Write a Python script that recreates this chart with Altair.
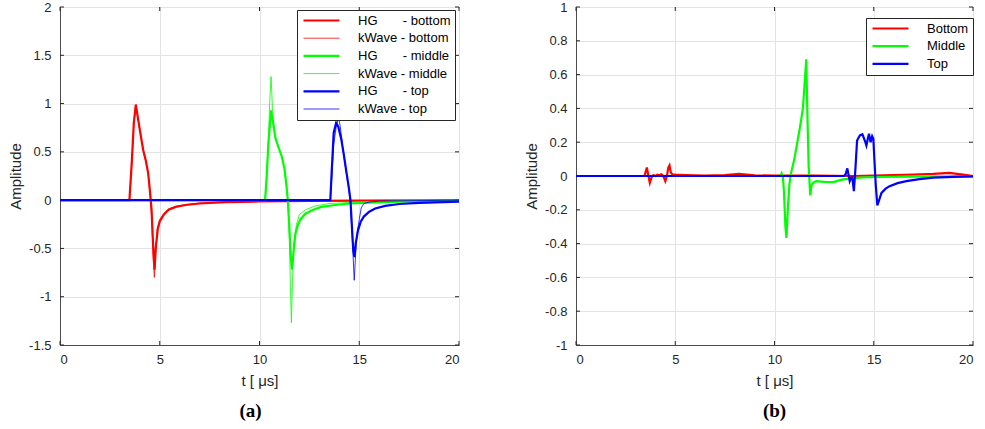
import altair as alt
import pandas as pd

# ---------------- panel (a): HG vs kWave ----------------
hg_bot_t = [0, 3.48, 3.6, 3.7, 3.8, 3.9, 4.0, 4.17, 4.3, 4.42, 4.52, 4.59, 4.67, 4.74, 4.8, 4.9, 5.0, 5.2, 5.45, 5.8, 6.3, 7.0, 8.3, 10, 12.5, 15, 20]
hg_bot_a = [0, 0, 0.4, 0.8, 0.99, 0.86, 0.73, 0.52, 0.41, 0.28, 0.07, -0.1, -0.48, -0.72, -0.5, -0.3, -0.22, -0.15, -0.1, -0.07, -0.05, -0.035, -0.02, -0.014, -0.008, -0.005, -0.002]

kw_bot_t = [0, 3.48, 3.6, 3.7, 3.8, 3.9, 4.0, 4.17, 4.3, 4.42, 4.52, 4.6, 4.67, 4.73, 4.79, 4.87, 5.0, 5.2, 5.45, 5.8, 6.3, 7.0, 8.3, 10, 12.5, 15, 20]
kw_bot_a = [0, 0, 0.38, 0.78, 0.98, 0.85, 0.72, 0.52, 0.4, 0.27, 0.05, -0.2, -0.6, -0.8, -0.55, -0.3, -0.2, -0.14, -0.09, -0.065, -0.045, -0.03, -0.018, -0.012, -0.007, -0.004, -0.001]

hg_mid_t = [0, 10.28, 10.36, 10.45, 10.58, 10.68, 10.8, 10.95, 11.12, 11.25, 11.35, 11.42, 11.5, 11.57, 11.63, 11.7, 11.8, 11.9, 12.05, 12.3, 12.7, 13.1, 13.8, 14.5, 15.5, 17, 20]
hg_mid_a = [0, 0, 0.25, 0.6, 0.93, 0.8, 0.64, 0.55, 0.45, 0.33, 0.15, 0, -0.3, -0.6, -0.72, -0.55, -0.35, -0.27, -0.2, -0.14, -0.1, -0.07, -0.05, -0.035, -0.025, -0.015, -0.008]

kw_mid_t = [0, 10.28, 10.36, 10.45, 10.52, 10.58, 10.65, 10.75, 10.95, 11.12, 11.25, 11.35, 11.42, 11.5, 11.55, 11.6, 11.65, 11.72, 11.85, 12.0, 12.3, 12.8, 13.5, 15, 17, 20]
kw_mid_a = [0, 0, 0.22, 0.65, 1.05, 1.28, 0.95, 0.7, 0.55, 0.45, 0.33, 0.15, 0, -0.4, -0.9, -1.27, -0.85, -0.45, -0.25, -0.15, -0.1, -0.06, -0.035, -0.02, -0.01, -0.005]

hg_top_t = [0, 13.55, 13.62, 13.72, 13.84, 13.95, 14.1, 14.22, 14.35, 14.47, 14.56, 14.64, 14.7, 14.76, 14.82, 14.94, 15.08, 15.23, 15.5, 15.8, 16.3, 17, 18, 20]
hg_top_a = [0, 0, 0.3, 0.7, 0.8, 0.76, 0.63, 0.48, 0.3, 0.14, 0, -0.3, -0.52, -0.59, -0.45, -0.31, -0.22, -0.17, -0.12, -0.087, -0.06, -0.04, -0.028, -0.015]

kw_top_t = [0, 13.55, 13.62, 13.72, 13.86, 13.97, 14.05, 14.2, 14.35, 14.5, 14.56, 14.65, 14.75, 14.82, 14.9, 15.0, 15.1, 15.23, 15.5, 16, 20]
kw_top_a = [0, 0, 0.22, 0.58, 0.78, 0.85, 0.76, 0.5, 0.28, 0.08, -0.05, -0.4, -0.83, -0.55, -0.33, -0.2, -0.08, -0.035, -0.02, -0.01, 0]

NB = "\u00a0"
names_a = ["HG" + NB * 7 + "- bottom", "kWave - bottom",
           "HG" + NB * 7 + "- middle", "kWave - middle",
           "HG" + NB * 7 + "- top", "kWave - top"]
colors_a = ["#ff0000", "#ff0000", "#00ff00", "#00ff00", "#0000ff", "#0000ff"]
widths_a = [2.2, 0.8, 2.2, 0.8, 2.2, 0.8]
yticks_a = [-1.5, -1, -0.5, 0, 0.5, 1, 1.5, 2]

# ---------------- panel (b): differences ----------------
bot_t = [0, 3.45, 3.52, 3.57, 3.65, 3.72, 3.8, 3.9, 4.0, 4.1, 4.2, 4.3, 4.4, 4.5, 4.58, 4.65, 4.71, 4.78, 4.85, 5.0, 5.5, 6.5, 7.5, 8.2, 9.0, 10, 12, 14, 15, 16, 17, 18, 18.8, 19.5, 20]
bot_a = [0, 0, 0.03, 0.05, 0.0, -0.04, -0.01, 0.005, 0.0, 0.008, 0.004, 0.01, 0.0, -0.03, 0.0, 0.05, 0.063, 0.02, 0.01, 0.008, 0.006, 0.003, 0.005, 0.012, 0.004, 0.002, 0.002, 0.0, 0.003, 0.006, 0.008, 0.012, 0.018, 0.008, 0.0]

mid_t = [0, 10.3, 10.36, 10.42, 10.48, 10.55, 10.6, 10.67, 10.75, 10.84, 11.0, 11.15, 11.3, 11.43, 11.52, 11.6, 11.66, 11.72, 11.8, 11.86, 11.94, 12.1, 12.5, 12.95, 13.45, 14.3, 15, 17, 20]
mid_a = [0, 0, 0.016, 0.0, -0.1, -0.3, -0.366, -0.2, -0.05, 0.02, 0.1, 0.2, 0.3, 0.4, 0.55, 0.69, 0.35, 0.06, -0.115, -0.06, -0.04, -0.03, -0.035, -0.036, -0.02, -0.01, -0.006, -0.004, -0.002]

top_t = [0, 13.5, 13.58, 13.67, 13.74, 13.79, 13.86, 13.92, 14.0, 14.08, 14.16, 14.3, 14.43, 14.55, 14.63, 14.7, 14.76, 14.84, 14.92, 14.98, 15.04, 15.1, 15.18, 15.25, 15.39, 15.6, 15.8, 16.2, 16.65, 17.3, 18.0, 19, 20]
top_a = [0, 0, 0.01, 0.045, 0.0, -0.03, -0.01, -0.01, -0.09, 0.05, 0.21, 0.24, 0.247, 0.21, 0.18, 0.22, 0.25, 0.2, 0.235, 0.22, 0.08, -0.05, -0.174, -0.15, -0.1, -0.075, -0.06, -0.042, -0.03, -0.018, -0.01, -0.005, -0.002]

names_b = ["Bottom", "Middle", "Top"]
colors_b = ["#ff0000", "#00ff00", "#0000ff"]
widths_b = [2.2, 2.2, 2.2]
yticks_b = [-1, -0.8, -0.6, -0.4, -0.2, 0, 0.2, 0.4, 0.6, 0.8, 1]

xticks = [0, 5, 10, 15, 20]

H = 338
FONT = "Liberation Sans"
DARK = "#262626"


def panel(series, names, colors, widths, ydomain, yticks, W, lx, ly, caption, cdx):
    xs = alt.Scale(domain=[0, 20], nice=False, zero=False)
    ys = alt.Scale(domain=ydomain, nice=False, zero=False)
    xax = alt.Axis(values=xticks, labelExpr="'' + datum.value", title="t [ \u03bcs]",
                   labelPadding=8, titlePadding=7, ticks=False)
    yax = alt.Axis(values=yticks, labelExpr="'' + datum.value", title="Amplitude",
                   labelPadding=9, titlePadding=5, ticks=False)
    X = lambda: alt.X("t:Q", scale=xs, axis=xax)
    Y = lambda: alt.Y("amp:Q", scale=ys, axis=yax)
    leg = alt.Legend(title=None, orient="none", legendX=lx, legendY=ly,
                     symbolType="M-4,0H4", symbolSize=81, symbolOffset=14,
                     labelFont=FONT, labelFontSize=13, labelColor="black",
                     labelOffset=30, strokeColor=DARK, fillColor="white",
                     padding=4, rowPadding=3.7)
    layers = []
    # inward ticks (MATLAB style)
    ytk = pd.DataFrame({"amp": yticks})
    xtk = pd.DataFrame({"t": xticks})
    base_y = alt.Chart(ytk).mark_rule(color=DARK, strokeWidth=1)
    base_x = alt.Chart(xtk).mark_rule(color=DARK, strokeWidth=1)
    layers.append(base_y.encode(y=Y(), x=alt.value(0), x2=alt.value(4)))
    layers.append(base_y.encode(y=Y(), x=alt.value(W - 4), x2=alt.value(W)))
    layers.append(base_x.encode(x=X(), y=alt.value(H - 4), y2=alt.value(H)))
    layers.append(base_x.encode(x=X(), y=alt.value(0), y2=alt.value(4)))
    for (t, a), name in zip(series, names):
        df = pd.DataFrame({"t": t, "amp": a, "series": name})
        layers.append(
            alt.Chart(df).mark_line().encode(
                x=X(), y=Y(),
                color=alt.Color("series:N", scale=alt.Scale(domain=names, range=colors), legend=leg),
                strokeWidth=alt.StrokeWidth("series:N",
                                            scale=alt.Scale(type="ordinal", domain=names, range=widths),
                                            legend=leg),
            )
        )
    return alt.layer(*layers).properties(
        width=W, height=H,
        title=alt.TitleParams(caption, orient="bottom", font="Liberation Serif",
                              fontSize=19, fontWeight="bold", color="black",
                              offset=14, dx=cdx, anchor="middle"),
    )


left = panel([(hg_bot_t, hg_bot_a), (kw_bot_t, kw_bot_a), (hg_mid_t, hg_mid_a),
              (kw_mid_t, kw_mid_a), (hg_top_t, hg_top_a), (kw_top_t, kw_top_a)],
             names_a, colors_a, widths_a, [-1.5, 2], yticks_a, 399, 237, 3, "(a)", -9)
right = panel([(bot_t, bot_a), (mid_t, mid_a), (top_t, top_a)],
              names_b, colors_b, widths_b, [-1, 1], yticks_b, 397, 290, 11, "(b)", 0)

chart = alt.hconcat(left, right, spacing=60).resolve_scale(
    color="independent", strokeWidth="independent", x="independent", y="independent"
).resolve_legend(color="independent", strokeWidth="independent").properties(
    padding={"left": 8, "top": 0, "right": 5, "bottom": 0}, background="white"
).configure_view(stroke="#4d4d4d", strokeWidth=1).configure_axis(
    grid=True, gridColor="#e3e3e3", gridWidth=1, domainColor="#4d4d4d", domainWidth=1,
    labelColor=DARK, titleColor=DARK, labelFont=FONT, titleFont=FONT,
    labelFontSize=13, titleFontSize=15, titleFontWeight="normal"
)

chart.save("out.html", embed_options={"renderer": "svg", "actions": False})
